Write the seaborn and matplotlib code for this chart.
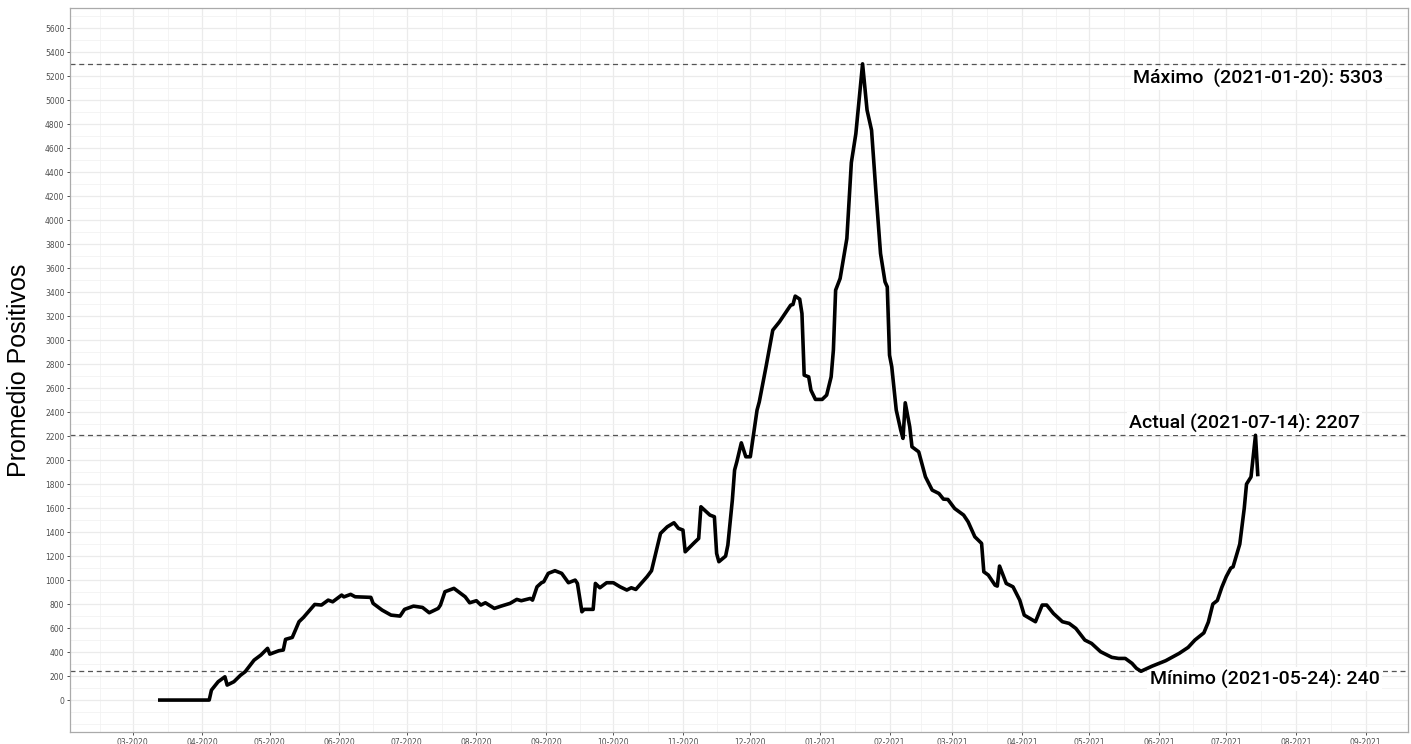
import pandas as pd
import matplotlib
matplotlib.use('Agg')
import matplotlib.pyplot as plt
import matplotlib.dates as mdates
import seaborn as sns

# valores (promedio de positivos)
fechas = ['2020-03-13', '2020-04-04', '2020-04-05', '2020-04-08', '2020-04-11', '2020-04-12',
          '2020-04-15', '2020-04-18', '2020-04-20', '2020-04-24', '2020-04-27', '2020-04-30',
          '2020-05-01', '2020-05-05', '2020-05-07', '2020-05-08', '2020-05-11', '2020-05-14',
          '2020-05-16', '2020-05-21', '2020-05-24', '2020-05-27', '2020-05-29', '2020-06-02',
          '2020-06-03', '2020-06-06', '2020-06-08', '2020-06-15', '2020-06-16', '2020-06-20',
          '2020-06-24', '2020-06-28', '2020-06-30', '2020-07-04', '2020-07-08', '2020-07-11',
          '2020-07-15', '2020-07-16', '2020-07-18', '2020-07-22', '2020-07-25', '2020-07-27',
          '2020-07-29', '2020-08-01', '2020-08-03', '2020-08-05', '2020-08-09', '2020-08-12',
          '2020-08-16', '2020-08-19', '2020-08-21', '2020-08-25', '2020-08-26', '2020-08-28',
          '2020-08-30', '2020-08-31', '2020-09-02', '2020-09-05', '2020-09-08', '2020-09-11',
          '2020-09-14', '2020-09-15', '2020-09-17', '2020-09-18', '2020-09-22', '2020-09-23',
          '2020-09-25', '2020-09-28', '2020-10-01', '2020-10-04', '2020-10-07', '2020-10-09',
          '2020-10-11', '2020-10-14', '2020-10-16', '2020-10-18', '2020-10-22', '2020-10-25',
          '2020-10-28', '2020-10-30', '2020-11-01', '2020-11-02', '2020-11-06', '2020-11-08',
          '2020-11-09', '2020-11-13', '2020-11-15', '2020-11-16', '2020-11-17', '2020-11-20',
          '2020-11-21', '2020-11-23', '2020-11-24', '2020-11-25', '2020-11-27', '2020-11-29',
          '2020-12-01', '2020-12-04', '2020-12-05', '2020-12-08', '2020-12-11', '2020-12-14',
          '2020-12-17', '2020-12-19', '2020-12-20', '2020-12-21', '2020-12-23', '2020-12-24',
          '2020-12-25', '2020-12-27', '2020-12-28', '2020-12-30', '2021-01-02', '2021-01-04',
          '2021-01-06', '2021-01-07', '2021-01-08', '2021-01-10', '2021-01-13', '2021-01-15',
          '2021-01-17', '2021-01-20', '2021-01-22', '2021-01-24', '2021-01-26', '2021-01-28',
          '2021-01-30', '2021-01-31', '2021-02-01', '2021-02-02', '2021-02-04', '2021-02-06',
          '2021-02-07', '2021-02-08', '2021-02-10', '2021-02-11', '2021-02-14', '2021-02-17',
          '2021-02-20', '2021-02-23', '2021-02-25', '2021-02-27', '2021-03-02', '2021-03-06',
          '2021-03-08', '2021-03-11', '2021-03-14', '2021-03-15', '2021-03-17', '2021-03-20',
          '2021-03-21', '2021-03-22', '2021-03-25', '2021-03-28', '2021-03-31', '2021-04-02',
          '2021-04-07', '2021-04-10', '2021-04-12', '2021-04-15', '2021-04-19', '2021-04-22',
          '2021-04-25', '2021-04-29', '2021-05-02', '2021-05-06', '2021-05-11', '2021-05-14',
          '2021-05-17', '2021-05-20', '2021-05-22', '2021-05-24', '2021-05-29', '2021-06-04',
          '2021-06-10', '2021-06-14', '2021-06-17', '2021-06-21', '2021-06-23', '2021-06-25',
          '2021-06-27', '2021-06-29', '2021-07-01', '2021-07-03', '2021-07-04', '2021-07-07',
          '2021-07-09', '2021-07-10', '2021-07-12', '2021-07-14', '2021-07-15']
positivos = [0, 0, 83, 153, 194, 125,
             153, 208, 236, 333, 375, 431,
             383, 411, 417, 506, 522, 653,
             689, 797, 792, 833, 819, 875,
             860, 881, 861, 856, 806, 750,
             708, 700, 756, 783, 772, 728,
             764, 792, 903, 931, 889, 861,
             811, 828, 792, 811, 764, 783,
             806, 839, 828, 847, 833, 944,
             978, 986, 1056, 1078, 1056, 978,
             1000, 972, 736, 756, 756, 972,
             936, 978, 978, 944, 917, 936,
             922, 986, 1028, 1078, 1389, 1444,
             1478, 1431, 1417, 1236, 1311, 1347,
             1611, 1542, 1528, 1222, 1153, 1200,
             1292, 1667, 1917, 1986, 2144, 2028,
             2028, 2417, 2486, 2778, 3083, 3153,
             3236, 3292, 3297, 3367, 3342, 3222,
             2708, 2694, 2583, 2506, 2506, 2542,
             2694, 2917, 3417, 3514, 3847, 4480,
             4720, 5303, 4917, 4750, 4222, 3722,
             3486, 3444, 2875, 2778, 2417, 2250,
             2181, 2478, 2278, 2111, 2069, 1861,
             1750, 1722, 1675, 1672, 1597, 1542,
             1486, 1361, 1306, 1069, 1042, 958,
             950, 1117, 972, 944, 833, 708,
             653, 792, 792, 722, 653, 639,
             597, 500, 472, 403, 356, 347,
             347, 306, 264, 240, 283, 328,
             389, 439, 500, 560, 650, 800,
             830, 940, 1030, 1100, 1110, 1300,
             1600, 1800, 1860, 2207, 1880]

maximo = 5303
minimo = 240
actual = 2207
etiquetas = ['Máximo  (2021-01-20): 5303', 'Actual (2021-07-14): 2207', 'Mínimo (2021-05-24): 240']

df = pd.DataFrame({'fecha': pd.to_datetime(fechas), 'positivos': positivos})

fig, ax = plt.subplots(figsize=(14.11, 7.44), dpi=100)
fig.subplots_adjust(left=0.0496, right=0.998, top=0.989, bottom=0.016)

sns.lineplot(data=df, x='fecha', y='positivos', color='black', linewidth=2.6, ax=ax, zorder=5)

for v in [maximo, actual, minimo]:
    ax.axhline(v, color='#555555', linestyle=(0, (4, 3)), linewidth=0.9, zorder=2)

# etiquetas con fondo blanco (tapan la linea punteada)
fuente = dict(family=['Roboto', 'DejaVu Sans'], fontsize=14, fontweight='medium', color='black',
              bbox=dict(facecolor='white', edgecolor='none', pad=1.5), zorder=4)
ax.text(pd.Timestamp('2021-07-15'), 5180, etiquetas[0], ha='center', va='center', **fuente)
ax.text(pd.Timestamp('2021-07-09'), 2308, etiquetas[1], ha='center', va='center', **fuente)
ax.text(pd.Timestamp('2021-07-18'), 175, etiquetas[2], ha='center', va='center', **fuente)

# ejes
meses = pd.date_range('2020-03-01', '2021-09-01', freq='MS')
medios = pd.date_range('2020-02-01', '2021-09-01', freq='MS')
medios = medios[:-1] + (medios[1:] - medios[:-1]) / 2
ax.set_xticks(meses)
ax.set_xticks(medios, minor=True)
ax.xaxis.set_major_formatter(mdates.DateFormatter('%m-%Y'))
ax.set_xlim(pd.Timestamp('2020-02-02'), pd.Timestamp('2021-09-20'))

ax.set_yticks(range(0, 5601, 200))
ax.set_yticks(range(-300, 5800, 100), minor=True)
ax.set_ylim(-267, 5767)

ax.grid(which='major', color='#EBEBEB', linewidth=0.9)
ax.grid(which='minor', color='#F2F2F2', linewidth=0.6)
ax.set_axisbelow(True)

ax.tick_params(which='major', labelsize=5.5, labelcolor='#4D4D4D', color='#333333',
               length=2.5, width=0.6, pad=1.5)
ax.tick_params(which='minor', length=0)
for s in ax.spines.values():
    s.set_color('#AAAAAA')
    s.set_linewidth(0.9)

ax.set_xlabel('')
ax.set_ylabel('Promedio Positivos', fontsize=18, family=['Liberation Sans', 'DejaVu Sans'], labelpad=10)

plt.savefig('out.png', dpi=100)
